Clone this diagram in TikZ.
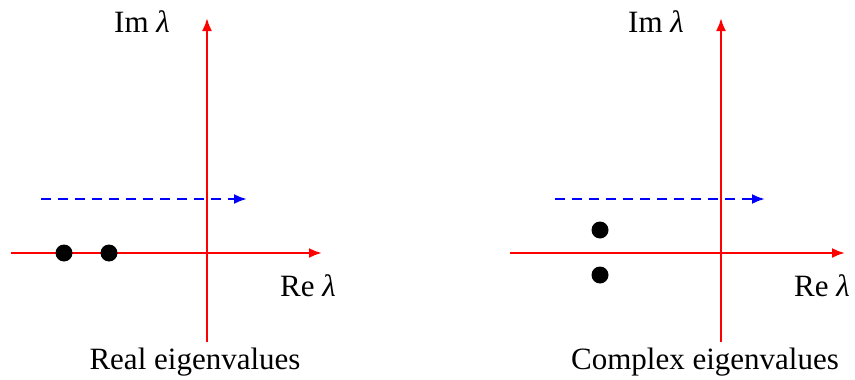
\documentclass[tikz,border=0pt]{standalone}
\usepackage{fontspec}
\setmainfont{Liberation Serif}
\usepackage{tikz}
\usetikzlibrary{arrows.meta}
\newcommand{\lam}{\textit{λ}}
\tikzset{
  axis/.style={draw=red, line width=2.3pt, -{Latex[length=13pt,width=10pt]}},
  shiftarrow/.style={draw=blue, line width=2.3pt, dash pattern=on 10pt off 7pt, -{Latex[length=13pt,width=10pt]}},
  eig/.style={circle, fill=black, inner sep=0pt, minimum size=17pt},
  lbl/.style={inner sep=0pt, font=\fontsize{31}{36}\selectfont}
}
\begin{document}
\begin{tikzpicture}[x=1pt,y=-1pt]
			\useasboundingbox (0,0) rectangle (855,380);
			% real eigenvalues
			\coordinate (hl0) at (11,253);
			\coordinate (hl1) at (322,253);
			\coordinate (vl0) at (207,342);
			\coordinate (vl1) at (207,18);
			\coordinate (dl0) at (41,199);
			\coordinate (dl1) at (247,199);
			\draw[axis] (hl0) -- (hl1);
			\draw[axis] (vl0) -- (vl1);
			\draw[shiftarrow] (dl0) -- (dl1);
			\node[eig] (e1) at (64,253) {};
			\node[eig] (e2) at (109,253) {};
			\node[lbl] (iml) at (142,22) {Im \lam};
			\node[lbl] (rel) at (308,286) {Re \lam};
			\node[lbl] (capl) at (195,362) {Real eigenvalues};
			% complex eigenvalues
			\coordinate (hr0) at (510,253);
			\coordinate (hr1) at (845,253);
			\coordinate (vr0) at (721,342);
			\coordinate (vr1) at (721,18);
			\coordinate (dr0) at (555,199);
			\coordinate (dr1) at (765,199);
			\draw[axis] (hr0) -- (hr1);
			\draw[axis] (vr0) -- (vr1);
			\draw[shiftarrow] (dr0) -- (dr1);
			\node[eig] (c1) at (600,230) {};
			\node[eig] (c2) at (600,275) {};
			\node[lbl] (imr) at (656,22) {Im \lam};
			\node[lbl] (rer) at (822,286) {Re \lam};
			\node[lbl] (capr) at (705,362) {Complex eigenvalues};
		\end{tikzpicture}
\end{document}
